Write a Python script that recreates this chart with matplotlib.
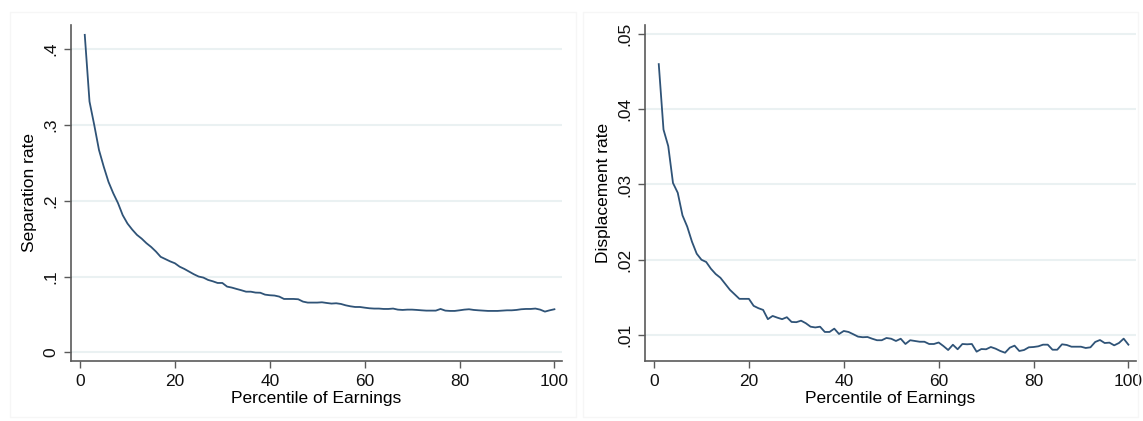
import matplotlib

matplotlib.use('Agg')

import matplotlib.pyplot as plt
from matplotlib.patches import Rectangle

plt.rcParams['font.family'] = ['Liberation Sans', 'DejaVu Sans']

# percentiles of earnings, 1..100
percentile = list(range(1, 101))

separation_rate = [
    0.419, 0.331, 0.300, 0.267, 0.245, 0.225, 0.210, 0.197, 0.181, 0.170,
    0.162, 0.155, 0.150, 0.144, 0.139, 0.133, 0.126, 0.123, 0.120, 0.1175,
    0.113, 0.110, 0.1065, 0.103, 0.100, 0.0986, 0.0955, 0.0937, 0.0915, 0.0915,
    0.0867, 0.0854, 0.0836, 0.0819, 0.0800, 0.0800, 0.0788, 0.0786, 0.0761, 0.0753,
    0.0749, 0.0735, 0.0704, 0.0704, 0.0704, 0.0700, 0.0669, 0.0656, 0.0656, 0.0656,
    0.0660, 0.0651, 0.0643, 0.0647, 0.0638, 0.0620, 0.0607, 0.0598, 0.0598, 0.0589,
    0.0581, 0.0577, 0.0577, 0.0572, 0.0572, 0.0577, 0.0563, 0.0559, 0.0563, 0.0563,
    0.0559, 0.0554, 0.0550, 0.0550, 0.0550, 0.0572, 0.0550, 0.0546, 0.0546, 0.0554,
    0.0563, 0.0568, 0.0559, 0.0554, 0.0550, 0.0546, 0.0546, 0.0546, 0.0550, 0.0554,
    0.0554, 0.0559, 0.0568, 0.0572, 0.0572, 0.0577, 0.0563, 0.0537, 0.0554, 0.0568,
]

displacement_rate = [
    0.0460, 0.0373, 0.0351, 0.0302, 0.0289, 0.0259, 0.0244, 0.0224, 0.0208, 0.0200,
    0.0197, 0.0188, 0.0181, 0.0176, 0.0168, 0.0160, 0.0154, 0.0148, 0.0148, 0.0148,
    0.01387, 0.01356, 0.01333, 0.0121, 0.01253, 0.0123, 0.0121, 0.01236, 0.01173, 0.0117,
    0.0119, 0.01156, 0.0111, 0.0110, 0.0111, 0.0104, 0.0104, 0.01084, 0.01013, 0.01053,
    0.0104, 0.0101, 0.00978, 0.0097, 0.00973, 0.0095, 0.0093, 0.0093, 0.0096, 0.0095,
    0.0092, 0.0095, 0.0088, 0.0093, 0.0092, 0.0091, 0.0091, 0.0088, 0.0088, 0.0090,
    0.00853, 0.0080, 0.0087, 0.0081, 0.0088, 0.00876, 0.0088, 0.00778, 0.00813, 0.0081,
    0.0084, 0.00818, 0.00787, 0.00764, 0.00831, 0.00858, 0.00787, 0.0080, 0.00836, 0.0084,
    0.00849, 0.00871, 0.00871, 0.00804, 0.00804, 0.00876, 0.00867, 0.00844, 0.00844, 0.00844,
    0.00827, 0.00836, 0.00907, 0.00933, 0.00893, 0.00898, 0.00862, 0.00893, 0.00951, 0.00871,
]

sep_ticks = [0, 0.1, 0.2, 0.3, 0.4]
sep_labels = ['0', '.1', '.2', '.3', '.4']
disp_ticks = [0.01, 0.02, 0.03, 0.04, 0.05]
disp_labels = ['.01', '.02', '.03', '.04', '.05']
x_ticks = [0, 20, 40, 60, 80, 100]

line_color = '#2f5377'
grid_color = '#eaf1f2'
axis_color = '#5a5a5a'

fig = plt.figure(figsize=(11.43, 4.21), dpi=100)

# faint panel frames
for x0, w in [(10, 566), (583, 555)]:
    fig.patches.append(Rectangle((x0 / 1143, 4 / 421), w / 1143, 405 / 421,
                                 transform=fig.transFigure, fill=False,
                                 edgecolor='#f6f6f6', linewidth=1.0))


def panel(rect, y, yticks, ylabels, ylim, ylabel):
    ax = fig.add_axes(rect)
    ax.plot(percentile, y, color=line_color, linewidth=1.3, zorder=3)
    ax.set_xlim(-1.9, 101.6)
    ax.set_ylim(*ylim)
    ax.set_xticks(x_ticks)
    ax.set_yticks(yticks)
    ax.set_yticklabels(ylabels, rotation=90, va='center')
    for t in yticks:
        ax.axhline(t, color=grid_color, linewidth=1.5, zorder=1)
    for s in ['top', 'right']:
        ax.spines[s].set_visible(False)
    for s in ['left', 'bottom']:
        ax.spines[s].set_color(axis_color)
        ax.spines[s].set_linewidth(1.2)
    ax.tick_params(axis='both', direction='out', length=5, width=1.0,
                   color=axis_color, labelsize=12.5, labelcolor='#111111', pad=4)
    ax.set_xlabel('Percentile of Earnings', fontsize=12.5, labelpad=2)
    ax.set_ylabel(ylabel, fontsize=12.5, labelpad=5)
    return ax


panel([71 / 1143, 60 / 421, 491 / 1143, 336 / 421], separation_rate,
      sep_ticks, sep_labels, (-0.0115, 0.432), 'Separation rate')
panel([645 / 1143, 60 / 421, 491 / 1143, 336 / 421], displacement_rate,
      disp_ticks, disp_labels, (0.00654, 0.0512), 'Displacement rate')

fig.savefig('out.png', dpi=100, facecolor='white')
